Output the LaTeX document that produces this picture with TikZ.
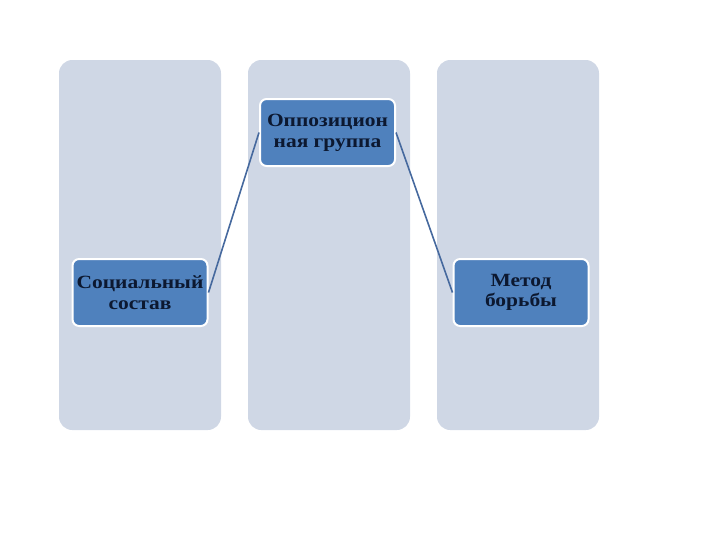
\documentclass[tikz,border=0pt]{standalone}
\usepackage{fontspec}
\setmainfont{Liberation Serif}
\newfontfamily\boxfont[FakeStretch=1.15]{Liberation Serif}
\definecolor{colfill}{HTML}{CFD7E5}
\definecolor{boxfill}{HTML}{4F81BD}
\definecolor{boxtext}{HTML}{0C1830}
\definecolor{linkcol}{HTML}{46699E}
\tikzset{
    column/.style={fill=colfill, rounded corners=10pt, minimum width=121.5pt, minimum height=277.5pt},
    item/.style={fill=boxfill, draw=white, line width=1.5pt, rounded corners=5pt,
        minimum width=101.25pt, minimum height=50.25pt, inner sep=1pt, align=center,
        text=boxtext, font=\boxfont\bfseries\fontsize{14}{15.5}\selectfont},
    link/.style={draw=linkcol, line width=1.2pt}
}

\begin{document}
\begin{tikzpicture}[x=0.75pt, y=-0.75pt]
    \useasboundingbox (0,0) rectangle (720,540);
    \node[column] (C1) at (140,245) {};
    \node[column] (C2) at (329,245) {};
    \node[column] (C3) at (518,245) {};
    \node[item] (opp) at (327.5,132.5) {Оппозицион\\ная группа};
    \node[item] (soc) at (140,292.5) {Социальный\\состав};
    \node[item] (met) at (521,292.5) {Метод\\борьбы};
    \draw[link] (soc.east) -- (opp.west);
    \draw[link] (opp.east) -- (met.west);
\end{tikzpicture}
\end{document}
